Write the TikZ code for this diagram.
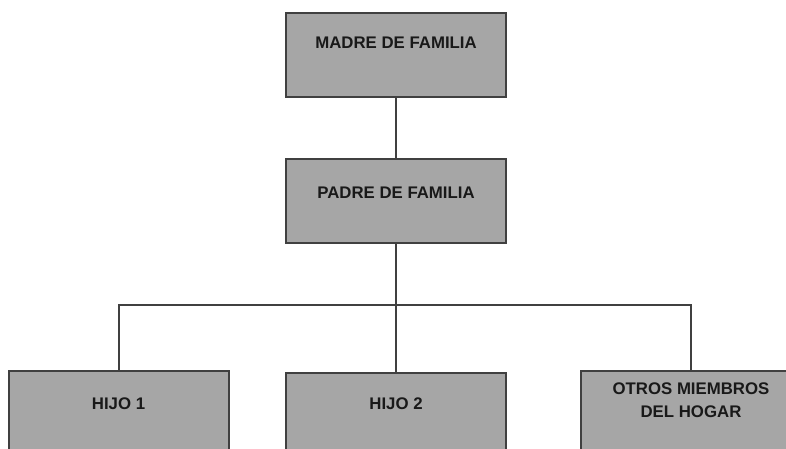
\documentclass[tikz,border=0pt]{standalone}
\usepackage{fontspec}
\setmainfont{Liberation Sans}
\definecolor{cajagris}{HTML}{A6A6A6}
\definecolor{linea}{HTML}{404040}
\begin{document}
\begin{tikzpicture}[x=1pt,y=-1pt,
  caja/.style={draw=linea,fill=cajagris,line width=2pt,minimum width=220pt,minimum height=84pt,inner sep=0pt},
  rotulo/.style={font=\bfseries\fontsize{16.8}{23}\selectfont,align=center,inner sep=0pt,text=black!90},
  enlace/.style={draw=linea,line width=2pt}]
\useasboundingbox (0,0) rectangle (786,449);
\clip (0,0) rectangle (786,449);
\node[caja] (madre) at (396,55) {};
\node[caja] (padre) at (396,201) {};
\node[caja] (hijo1) at (118.5,413) {};
\node[caja] (hijo2) at (396,415) {};
\node[caja] (otros) at (691,413) {};
\node[rotulo] (tmadre) at (396,43) {MADRE DE FAMILIA};
\node[rotulo] (tpadre) at (396,193) {PADRE DE FAMILIA};
\node[rotulo] (thijo1) at (118.5,404) {HIJO 1};
\node[rotulo] (thijo2) at (396,404) {HIJO 2};
\node[rotulo] (totros) at (691,400.5) {OTROS MIEMBROS\\DEL HOGAR};
\coordinate (bus) at (396,305);
\draw[enlace] (madre.south) -- (padre.north);
\draw[enlace] (padre.south) -- (hijo2.north);
\draw[enlace] (hijo1.north) |- (bus) -| (otros.north);
\end{tikzpicture}
\end{document}
